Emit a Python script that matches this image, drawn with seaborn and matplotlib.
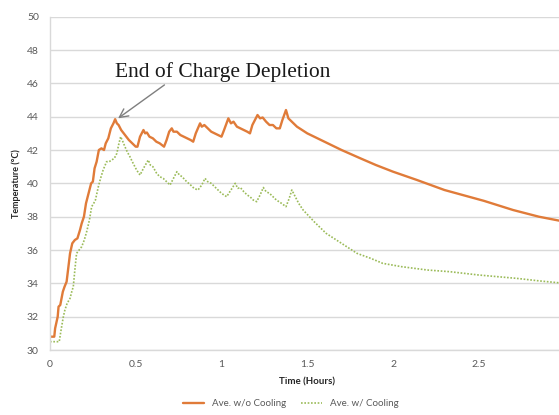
import pandas as pd
import matplotlib
matplotlib.use('Agg')
import matplotlib.pyplot as plt
import seaborn as sns

# Battery temperature readings (hours, deg C)
time_no_cool = [0, 0.025, 0.03, 0.045, 0.05, 0.06, 0.075, 0.085, 0.097, 0.11, 0.117, 0.13, 0.145,
                0.16, 0.175, 0.185, 0.198, 0.21, 0.225, 0.24, 0.25, 0.26, 0.272, 0.285, 0.30, 0.315,
                0.325, 0.34, 0.355, 0.37, 0.38, 0.39, 0.40, 0.415, 0.43, 0.445, 0.46, 0.48, 0.50,
                0.51, 0.525, 0.545, 0.555, 0.565, 0.58, 0.60, 0.62, 0.64, 0.665, 0.68, 0.695, 0.71,
                0.72, 0.74, 0.76, 0.78, 0.80, 0.82, 0.835, 0.85, 0.875, 0.885, 0.90, 0.92, 0.94,
                0.96, 0.98, 1.0, 1.015, 1.04, 1.055, 1.07, 1.09, 1.11, 1.13, 1.15, 1.166, 1.18,
                1.21, 1.225, 1.24, 1.26, 1.28, 1.30, 1.32, 1.34, 1.355, 1.376, 1.39, 1.41, 1.44,
                1.5, 1.6, 1.7, 1.81, 1.9, 2.0, 2.14, 2.3, 2.53, 2.7, 2.85, 3.0]
temp_no_cool = [30.8, 30.8, 31.3, 32.0, 32.6, 32.7, 33.5, 33.8, 34.1, 35.2, 35.8, 36.4, 36.6,
                36.7, 37.2, 37.6, 38.0, 38.8, 39.4, 40.0, 40.1, 40.9, 41.3, 42.0, 42.1, 42.0,
                42.4, 42.7, 43.3, 43.6, 43.85, 43.6, 43.5, 43.2, 43.0, 42.8, 42.6, 42.4, 42.2,
                42.2, 42.8, 43.2, 43.0, 43.05, 42.8, 42.7, 42.5, 42.4, 42.2, 42.6, 43.1, 43.3,
                43.1, 43.1, 42.9, 42.8, 42.7, 42.6, 42.5, 43.0, 43.6, 43.4, 43.5, 43.3, 43.1,
                43.0, 42.9, 42.8, 43.2, 43.9, 43.6, 43.7, 43.4, 43.3, 43.2, 43.1, 43.0, 43.5,
                44.1, 43.9, 43.95, 43.7, 43.5, 43.5, 43.3, 43.3, 43.8, 44.4, 43.9, 43.7, 43.4,
                43.0, 42.5, 42.0, 41.5, 41.1, 40.7, 40.2, 39.6, 38.95, 38.4, 38.0, 37.7]

time_cool = [0, 0.054, 0.06, 0.068, 0.078, 0.087, 0.1, 0.117, 0.127, 0.136, 0.145, 0.155, 0.17,
             0.185, 0.2, 0.214, 0.23, 0.243, 0.255, 0.265, 0.282, 0.295, 0.31, 0.33, 0.345, 0.36,
             0.375, 0.39, 0.40, 0.412, 0.425, 0.437, 0.45, 0.466, 0.48, 0.495, 0.505, 0.525,
             0.545, 0.573, 0.585, 0.60, 0.622, 0.64, 0.66, 0.68, 0.70, 0.72, 0.74, 0.755, 0.77,
             0.797, 0.82, 0.84, 0.863, 0.885, 0.904, 0.92, 0.94, 0.96, 0.98, 1.0, 1.03, 1.055,
             1.08, 1.095, 1.11, 1.13, 1.15, 1.166, 1.185, 1.205, 1.225, 1.244, 1.26, 1.28, 1.30,
             1.32, 1.35, 1.376, 1.395, 1.41, 1.43, 1.45, 1.476, 1.54, 1.61, 1.7, 1.79, 1.87,
             1.94, 2.05, 2.2, 2.33, 2.5, 2.72, 2.85, 3.0]
temp_cool = [30.5, 30.5, 30.9, 31.4, 32.0, 32.4, 32.8, 33.1, 33.5, 33.8, 34.8, 35.8, 36.0,
             36.2, 36.6, 37.1, 37.8, 38.6, 38.8, 39.0, 39.8, 40.3, 40.8, 41.3, 41.3, 41.4,
             41.5, 41.8, 42.3, 42.8, 42.5, 42.2, 41.9, 41.6, 41.3, 41.0, 40.8, 40.5,
             40.9, 41.4, 41.1, 41.0, 40.6, 40.4, 40.3, 40.1, 39.9, 40.3, 40.7, 40.5, 40.4,
             40.1, 39.9, 39.7, 39.6, 39.9, 40.3, 40.1, 40.0, 39.8, 39.6, 39.4, 39.2, 39.6,
             40.0, 39.7, 39.75, 39.5, 39.3, 39.2, 39.0, 38.9, 39.3, 39.75, 39.5, 39.4, 39.2,
             39.0, 38.8, 38.6, 39.1, 39.6, 39.2, 38.8, 38.4, 37.7, 37.0, 36.4, 35.8, 35.5,
             35.2, 35.0, 34.8, 34.7, 34.5, 34.3, 34.15, 34.0]

y_ticks = [30, 32, 34, 36, 38, 40, 42, 44, 46, 48, 50]
x_ticks = [0, 0.5, 1, 1.5, 2, 2.5]
x_tick_labels = ['0', '0.5', '1', '1.5', '2', '2.5']

sns.set_style('white')
plt.rcParams['font.family'] = ['Lato', 'DejaVu Sans']

fig = plt.figure(figsize=(5.59, 4.15), dpi=100)
ax = fig.add_axes([0.0894, 0.1566, 0.9205, 0.8032])

grid_col = '#D9D9D9'
text_col = '#595959'

sns.lineplot(x=time_no_cool, y=temp_no_cool, ax=ax, color='#E07B39', linewidth=1.7,
             estimator=None, sort=False, label='Ave. w/o Cooling')
sns.lineplot(x=time_cool, y=temp_cool, ax=ax, color='#9BBB59', linewidth=1.2,
             estimator=None, sort=False, linestyle=(0, (1, 1)), label='Ave. w/ Cooling')

ax.set_xlim(0, 3)
ax.set_ylim(30, 50)
ax.set_yticks(y_ticks)
ax.set_xticks(x_ticks)
ax.set_xticklabels(x_tick_labels)
ax.yaxis.grid(True, color=grid_col, linewidth=1.0)
ax.set_axisbelow(True)

for s in ['top', 'right']:
    ax.spines[s].set_visible(False)
for s in ['left', 'bottom']:
    ax.spines[s].set_color(grid_col)
    ax.spines[s].set_linewidth(1.0)

ax.tick_params(axis='x', direction='out', length=3, color=grid_col, labelsize=7.5,
               labelcolor=text_col, pad=4)
ax.tick_params(axis='y', length=0, labelsize=7.5, labelcolor=text_col, pad=8)

ax.set_xlabel('Time (Hours)', fontsize=7, fontweight='bold', color='#262626', labelpad=6)
ax.set_ylabel('Temperature (°C)', fontsize=6.5, fontweight='bold', color='#262626', labelpad=4)

ax.annotate('End of Charge Depletion', xy=(0.397, 43.9), xytext=(0.38, 46.7),
            fontsize=15.5, family='Liberation Serif', color='#1a1a1a', va='center', ha='left',
            arrowprops=dict(arrowstyle='->', color='#7f7f7f', lw=1.0,
                            shrinkA=0, shrinkB=0, relpos=(0.25, 0.0)))

handles, labels = ax.get_legend_handles_labels()
ax.get_legend().remove()
fig.legend(handles, labels, loc='lower center', bbox_to_anchor=(0.52, -0.005), ncol=2,
           frameon=False, fontsize=7, labelcolor=text_col, handlelength=2.2, columnspacing=1.5)

fig.savefig('out.png', dpi=100)
